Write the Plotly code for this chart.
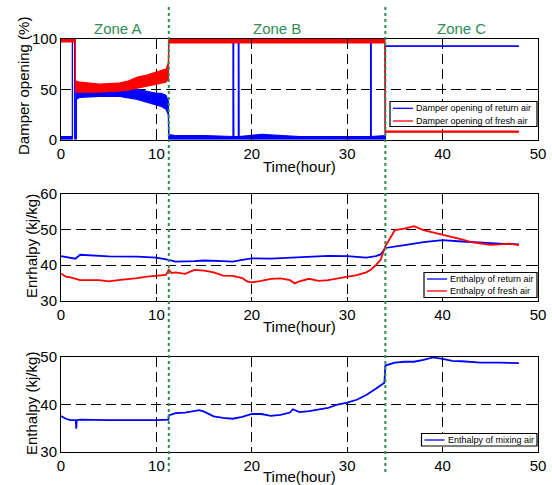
import plotly.graph_objects as go

# ---------------- data ----------------
# Panel 1: damper opening (%) -- noisy signals given as lower / upper envelope
dret_t  = [0, 1.2, 1.2, 1.45, 1.45, 1.6, 1.6, 2, 4, 6, 8, 9, 10, 10.5, 11, 11.25, 11.3, 12, 15,
           18.05, 18.05, 18.1, 18.1, 18.6, 18.6, 18.65, 18.65, 21, 25, 30,
           32.45, 32.45, 32.5, 32.5, 33.9, 34.0, 34.0, 48]
dret_lo = [0, 0, 100, 100, 0, 0, 40, 42, 43, 43, 40, 37, 34, 33, 30, 25, 0, 0, 0,
           0, 100, 100, 0, 0, 100, 100, 0, 0, 0, 0,
           0, 100, 100, 0, 0, 0, 93, 93]
dret_hi = [3, 3, 100, 100, 2, 2, 50, 50, 49, 49, 50, 48, 46, 46, 44, 38, 5, 4, 4,
           3, 100, 100, 3, 3, 100, 100, 3, 5, 3, 3,
           3, 100, 100, 3, 4, 4, 93, 93]

dfr_t  = [0, 1.5, 1.5, 1.6, 2, 4, 6, 7, 8, 9, 10, 11, 11.25, 11.3, 15, 20, 25, 30, 33.95, 34.0, 48]
dfr_lo = [97, 97, 50, 47, 47, 47, 48, 49, 51, 53, 55, 57, 60, 96, 96, 96, 96, 96, 96, 7.2, 7.2]
dfr_hi = [100, 100, 60, 58, 57, 55, 56, 58, 62, 64, 67, 70, 76, 100, 100, 100, 100, 100, 100, 8.4, 8.4]

# Panel 2: enthalpy of return / fresh air (kJ/kg)
ret_t = [0, 0.5, 1, 1.5, 2, 3, 5, 8, 10, 11.3, 12, 14, 15, 17, 18, 19, 20, 22, 24, 26,
         28, 30, 32, 33, 33.5, 34, 35, 36, 38, 40, 42, 44, 46, 48]
ret_h = [42.5, 42.3, 42.2, 41.8, 42.9, 42.8, 42.45, 42.4, 42.1, 41.5, 41.0, 41.1, 41.3, 41.1, 41.0,
         41.5, 41.9, 41.8, 42.0, 42.3, 42.6, 42.5, 42.1, 42.5, 43.0, 44.8, 45.3, 45.6, 46.4, 47.0,
         46.6, 46.2, 46.0, 45.8]

fr_t = [0, 0.5, 1, 2, 4, 5, 6, 7, 8, 9, 10, 11, 11.3, 11.6, 12, 13, 14, 15, 16, 17, 18, 19, 19.5,
        20, 21, 22, 23, 24, 24.5, 25, 26, 27, 28, 29, 30, 31, 32, 32.5, 33, 33.5, 34, 34.5, 35, 36,
        37, 38, 39, 40, 41, 42, 43, 44, 45, 46, 47, 48]
fr_h = [37.7, 36.8, 36.6, 35.8, 35.8, 35.5, 35.8, 36.0, 36.4, 36.8, 37.1, 37.3, 38.7, 37.8, 38.0,
        37.6, 38.7, 38.5, 38.0, 37.1, 37.0, 36.4, 35.5, 35.2, 35.6, 36.2, 36.3, 35.8, 34.9, 35.5,
        36.2, 35.6, 35.8, 36.2, 36.8, 37.2, 38.0, 38.8, 40.0, 41.5, 45.3, 47.5, 49.8, 50.2, 50.9,
        49.8, 49.2, 48.4, 47.8, 47.2, 46.4, 46.0, 45.7, 45.8, 46.0, 45.6]

# Panel 3: enthalpy of mixing air (kJ/kg)
mix_t = [0, 0.5, 1, 1.55, 1.6, 1.65, 2, 5, 10, 11.25, 11.3, 12, 13, 14, 14.5, 15, 16, 17, 18, 19,
         20, 21, 22, 23, 24, 24.3, 25, 26, 27, 28, 29, 30, 31, 32, 33, 33.9, 34, 35, 36, 37,
         38, 39, 40, 41, 42, 44, 46, 48]
mix_h = [37.6, 37.0, 36.7, 36.7, 34.9, 36.7, 36.8, 36.7, 36.7, 36.8, 37.7, 38.2, 38.3, 38.6, 38.8,
         38.5, 37.5, 37.2, 37.0, 37.4, 38.0, 38.0, 37.6, 37.8, 38.3, 39.0, 38.4, 38.6, 38.9, 39.3,
         40.0, 40.4, 41.0, 42.0, 43.3, 44.6, 48.2, 48.8, 49.0, 49.0, 49.4, 49.9, 49.6, 49.2, 49.1,
         48.8, 48.8, 48.7]

zone_names = ["Zone A", "Zone B", "Zone C"]
zone_pos = [6.0, 22.6, 42.0]
zone_bounds = [11.3, 34.0]
x_ticks = [0, 10, 20, 30, 40, 50]
legend_names = [["Damper opening of return air", "Damper opening of fresh air"],
                ["Enthalpy of return air", "Enthalpy of fresh air"],
                ["Enthalpy of mixing air"]]
y_titles = ["Damper opening (%)", "Enrhalpy (kj/kg)", "Enthalpy (kj/kg)"]

# ---------------- figure ----------------
BLUE = "#0000ff"
RED = "#ff0000"
GREEN = "#2e8b57"
FONT = "Arial, Liberation Sans, sans-serif"
W, H = 552, 485

fig = go.Figure()


def band(t, lo, hi, color, name, xa, ya):
    fig.add_trace(go.Scatter(x=t, y=lo, mode="lines", line=dict(color=color, width=1.2),
                             name=name, xaxis=xa, yaxis=ya, showlegend=False))
    fig.add_trace(go.Scatter(x=t, y=hi, mode="lines", line=dict(color=color, width=1.2),
                             fill="tonexty", fillcolor=color, xaxis=xa, yaxis=ya,
                             showlegend=False, hoverinfo="skip"))


band(dret_t, dret_lo, dret_hi, BLUE, legend_names[0][0], "x", "y")
band(dfr_t, dfr_lo, dfr_hi, RED, legend_names[0][1], "x", "y")

fig.add_trace(go.Scatter(x=ret_t, y=ret_h, mode="lines", line=dict(color=BLUE, width=1.8),
                         name=legend_names[1][0], xaxis="x2", yaxis="y2", showlegend=False))
fig.add_trace(go.Scatter(x=fr_t, y=fr_h, mode="lines", line=dict(color=RED, width=1.8),
                         name=legend_names[1][1], xaxis="x2", yaxis="y2", showlegend=False))
fig.add_trace(go.Scatter(x=mix_t, y=mix_h, mode="lines", line=dict(color=BLUE, width=1.8),
                         name=legend_names[2][0], xaxis="x3", yaxis="y3", showlegend=False))

XL, XR = 61, 538
xdom = [XL / W, XR / W]


def px_x(p):
    return p / W


def px_y(p):
    return 1 - p / H


axis_common = dict(showline=True, mirror="ticks", linecolor="black", linewidth=1,
                   ticks="inside", ticklen=4, tickcolor="black", automargin=False,
                   showgrid=True, gridcolor="black", gridwidth=1, griddash="10px,5px",
                   zeroline=False, tickfont=dict(family=FONT, size=15, color="black"))

layout = dict(width=W, height=H, margin=dict(l=0, r=0, t=0, b=0, autoexpand=False),
              paper_bgcolor="white", plot_bgcolor="white", showlegend=False,
              font=dict(family=FONT, color="black"))

panels = [(39, 139.5, [0, 100], [0, 50, 100]),
          (193.5, 301, [30, 60], [30, 40, 50, 60]),
          (357, 452, [30, 50], [30, 40, 50])]
for i, (top, bottom, yr, yt) in enumerate(panels):
    sfx = "" if i == 0 else str(i + 1)
    layout["xaxis" + sfx] = dict(axis_common, domain=xdom, range=[0, 50], tickvals=x_ticks,
                                 anchor="y" + sfx)
    layout["yaxis" + sfx] = dict(axis_common, domain=[px_y(bottom), px_y(top)], range=yr,
                                 tickvals=yt, anchor="x" + sfx)

annotations = []
shapes = []

# zone labels
for name, xp in zip(zone_names, zone_pos):
    annotations.append(dict(text=name, x=xp, xref="x", y=px_y(28), yref="paper",
                            xanchor="center", yanchor="middle",
                            showarrow=False, font=dict(family=FONT, size=15, color=GREEN)))
# y titles
for txt, xc, yc in zip(y_titles, [23, 31, 31], [86, 246, 404]):
    annotations.append(dict(text=txt, x=px_x(xc), y=px_y(yc), xref="paper", yref="paper",
                            xanchor="center", yanchor="middle",
                            textangle=-90, showarrow=False, font=dict(family=FONT, size=15)))
# x titles
for yc in [166, 326, 476]:
    annotations.append(dict(text="Time(hour)", x=px_x((XL + XR) / 2), y=px_y(yc),
                            xref="paper", yref="paper", xanchor="center", yanchor="middle",
                            showarrow=False, font=dict(family=FONT, size=15)))

# boxed legends (drawn in pixel positions of the reference)
legend_boxes = [(390, 537, 101.5, 126.5, [108.3, 121]),
                (424, 537, 272.5, 297.5, [279, 291]),
                (421.5, 537, 433.5, 446, [440])]
legend_colors = [[BLUE, RED], [BLUE, RED], [BLUE]]
for (x0, x1, y0, y1, rows), names, cols in zip(legend_boxes, legend_names, legend_colors):
    shapes.append(dict(type="rect", xref="paper", yref="paper", x0=px_x(x0), x1=px_x(x1),
                       y0=px_y(y1), y1=px_y(y0), line=dict(color="black", width=1.2),
                       fillcolor="white", layer="above"))
    for ry, nm, c in zip(rows, names, cols):
        shapes.append(dict(type="line", xref="paper", yref="paper", x0=px_x(x0 + 3),
                           x1=px_x(x0 + 23), y0=px_y(ry), y1=px_y(ry),
                           line=dict(color=c, width=1.3), layer="above"))
        annotations.append(dict(text=nm, x=px_x(x0 + 24), y=px_y(ry), xref="paper", yref="paper",
                                xanchor="left", yanchor="middle", showarrow=False,
                                font=dict(family=FONT, size=9, color="black")))

# zone separators
for b in zone_bounds:
    shapes.append(dict(type="line", x0=b, x1=b, xref="x", y0=px_y(472), y1=px_y(7),
                       yref="paper", line=dict(color=GREEN, width=2, dash="dot"), layer="above"))

layout["annotations"] = annotations
layout["shapes"] = shapes

fig.update_layout(**layout)
fig.write_html("out.html", config={"displayModeBar": False},
               post_script="document.body.style.margin='0';")
